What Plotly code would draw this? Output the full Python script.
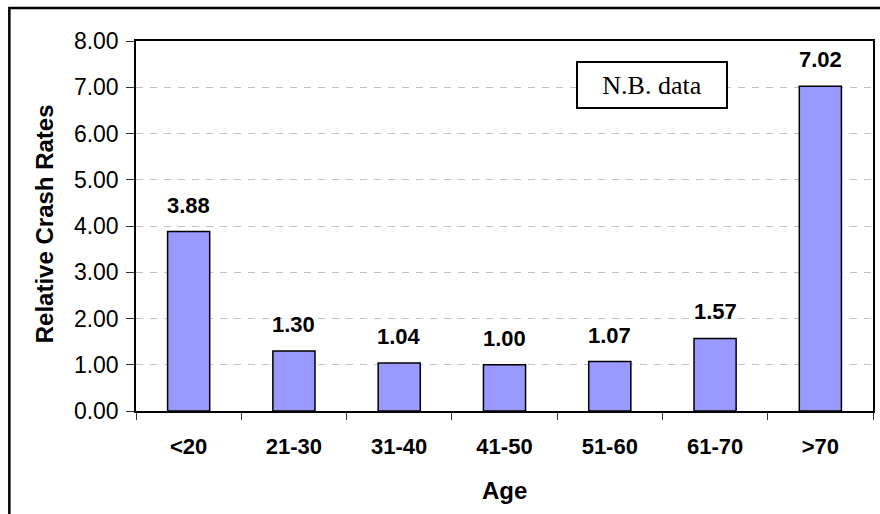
import plotly.graph_objects as go

# Relative crash rates by driver age group
age_groups = ["<20", "21-30", "31-40", "41-50", "51-60", "61-70", ">70"]
crash_rates = [3.88, 1.30, 1.04, 1.00, 1.07, 1.57, 7.02]
y_ticks = [0, 1, 2, 3, 4, 5, 6, 7, 8]
y_tick_labels = [f"{v:.2f}" for v in y_ticks]

W, H = 880, 514
L, R, T, B = 136, 5, 41, 103
plot_w = W - L - R
plot_h = H - T - B


def px_x(p):
    return (p - L) / plot_w


def px_y(p):
    return (H - B - p) / plot_h


fig = go.Figure(
    go.Bar(
        x=age_groups,
        y=crash_rates,
        width=0.4,
        marker=dict(color="#9999FF", line=dict(color="black", width=1.5)),
        hoverinfo="x+y",
    )
)

# value labels above each bar
for cat, val in zip(age_groups, crash_rates):
    fig.add_annotation(
        x=cat, y=val, text=f"<b>{val:.2f}</b>", showarrow=False,
        xanchor="center", yanchor="bottom", yshift=12,
        font=dict(family="Arial, Liberation Sans", size=22, color="black"),
    )

fig.update_layout(
    width=W, height=H,
    margin=dict(l=L, r=R, t=T, b=B),
    paper_bgcolor="white", plot_bgcolor="white",
    showlegend=False,
    bargap=0.6,
    font=dict(family="Arial, Liberation Sans", color="black"),
)

fig.update_yaxes(
    range=[0, 8],
    tickvals=y_ticks, ticktext=y_tick_labels,
    tickfont=dict(size=23, color="black"),
    ticks="outside", ticklen=8, tickcolor="#333333", tickwidth=1,
    showgrid=True, gridcolor="#C0C0C0", gridwidth=1, griddash="7px,7px",
    showline=True, linecolor="black", linewidth=1.5, mirror=True,
    zeroline=False,
    ticklabelstandoff=3,
)
fig.update_xaxes(
    tickfont=dict(size=22, color="black", weight="bold"),
    ticks="outside", tickson="boundaries", ticklen=7, tickcolor="#333333", tickwidth=1,
    showline=True, linecolor="black", linewidth=2, mirror=True,
    showgrid=False,
    ticklabelstandoff=15,
)

# axis titles
fig.add_annotation(
    xref="paper", yref="paper", x=px_x(44), y=px_y(224), textangle=-90,
    xanchor="center", yanchor="middle",
    text="<b>Relative Crash Rates</b>", showarrow=False,
    font=dict(size=24, color="black"),
)
fig.add_annotation(
    xref="paper", yref="paper", x=0.5, y=px_y(490),
    xanchor="center", yanchor="middle",
    text="<b>Age</b>", showarrow=False,
    font=dict(size=24, color="black"),
)

# boxed note
fig.add_annotation(
    xref="paper", yref="paper", x=px_x(653), y=px_y(85),
    xanchor="center", yanchor="middle",
    text="N.B. data", showarrow=False,
    width=148, height=44, borderpad=0,
    bordercolor="black", borderwidth=2, bgcolor="white",
    font=dict(family="Liberation Serif, Times New Roman", size=26, color="black"),
)

# outer chart frame
fig.add_shape(
    type="rect", xref="paper", yref="paper",
    x0=px_x(9), x1=px_x(890), y0=px_y(530), y1=px_y(8),
    line=dict(color="black", width=2.5), fillcolor="rgba(0,0,0,0)",
    layer="above",
)

fig.write_html("out.html")
